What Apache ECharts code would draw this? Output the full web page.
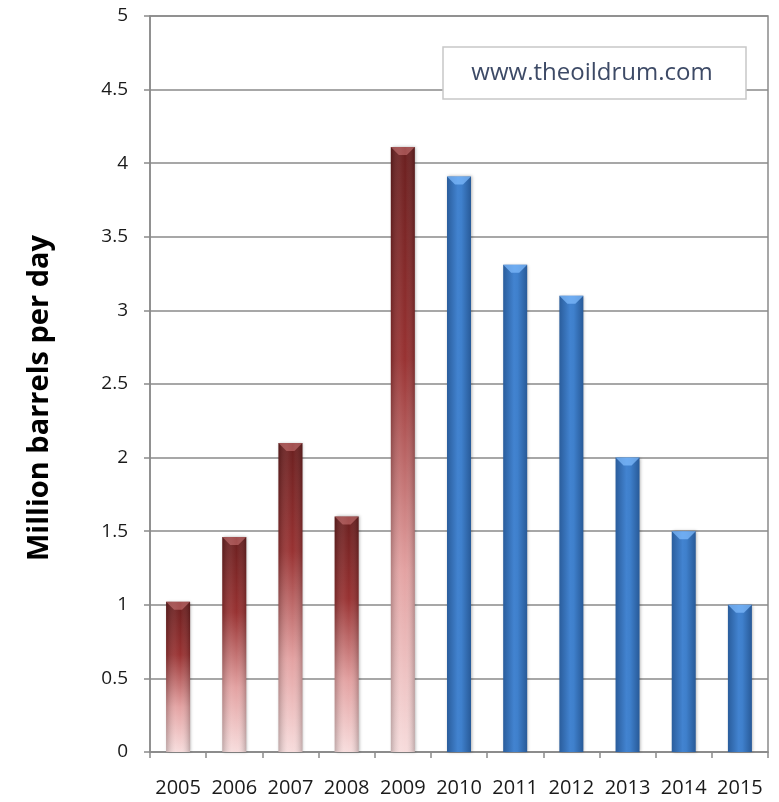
<!DOCTYPE html>
<html><head><meta charset="utf-8">
<script src="https://cdn.jsdelivr.net/npm/echarts@6/dist/echarts.min.js"></script>
<style>html,body{margin:0;padding:0;background:#fff}#c{width:779px;height:802px}</style>
</head><body><div id="c"></div>
<script>
const years = ['2005','2006','2007','2008','2009','2010','2011','2012','2013','2014','2015'];
const historical = [1.02, 1.46, 2.10, 1.60, 4.11, '-', '-', '-', '-', '-', '-'];
const forecast = ['-', '-', '-', '-', '-', 3.91, 3.31, 3.10, 2.00, 1.50, 1.00];
const yTicks = {min: 0, max: 5, interval: 0.5};
const yLabel = 'Million barrels per day';
const watermark = 'www.theoildrum.com';

const font = '"Open Sans", "Noto Sans", sans-serif';
const chart = echarts.init(document.getElementById('c'));
const redGrad = new echarts.graphic.LinearGradient(0,0,0,1,[
  {offset:0,color:'#6a1f1f'},{offset:0.35,color:'#983232'},{offset:0.7,color:'#e3a2a2'},{offset:1,color:'#f7dcdc'}]);
const blueGrad = new echarts.graphic.LinearGradient(0,0,1,0,[
  {offset:0,color:'#2a5d9c'},{offset:0.45,color:'#4283d0'},{offset:0.6,color:'#3f80cc'},{offset:1,color:'#285a98'}]);
const edgeShade = new echarts.graphic.LinearGradient(0,0,1,0,[
  {offset:0,color:'rgba(0,0,0,0.22)'},{offset:0.4,color:'rgba(255,255,255,0.06)'},{offset:0.6,color:'rgba(255,255,255,0.0)'},{offset:1,color:'rgba(0,0,0,0.22)'}]);
const bw = 24;
const capPath = 'path://M0,0 L24,0 L16,8 L8,8 Z';
chart.setOption({
  animation:false,
  grid:{left:150,right:11,top:16,bottom:50,show:true,borderColor:'#8a8a8a',borderWidth:1.5},
  xAxis:{type:'category',data:years,
    axisLine:{lineStyle:{color:'#8a8a8a',width:1.5}},
    axisTick:{show:true,length:6,lineStyle:{color:'#8a8a8a',width:1.5}},
    axisLabel:{interval:0,color:'#1a1a1a',fontFamily:font,fontSize:20,margin:26}},
  yAxis:{type:'value',min:yTicks.min,max:yTicks.max,interval:yTicks.interval,
    axisLine:{show:true,lineStyle:{color:'#8a8a8a',width:1.5}},
    axisTick:{show:true,length:6,lineStyle:{color:'#8a8a8a',width:1.5}},
    splitLine:{lineStyle:{color:'#8a8a8a',width:1.5}},
    axisLabel:{color:'#1a1a1a',fontFamily:font,fontSize:19,margin:22}},
  series:[
    {type:'bar',data:historical,barWidth:bw,barGap:'-100%',itemStyle:{color:redGrad,shadowColor:'rgba(0,0,0,0.3)',shadowBlur:3,shadowOffsetX:1}},
    {type:'bar',data:forecast,barWidth:bw,barGap:'-100%',itemStyle:{color:blueGrad,shadowColor:'rgba(0,0,0,0.3)',shadowBlur:3,shadowOffsetX:1}},
    {type:'bar',data:historical,barWidth:bw,barGap:'-100%',silent:true,itemStyle:{color:edgeShade}},
    {type:'pictorialBar',data:historical,symbol:capPath,symbolSize:[bw,8],symbolPosition:'end',barGap:'-100%',barWidth:bw,itemStyle:{color:'rgba(230,140,140,0.45)'},z:5},
    {type:'pictorialBar',data:forecast,symbol:capPath,symbolSize:[bw,8],symbolPosition:'end',barGap:'-100%',barWidth:bw,itemStyle:{color:'rgba(130,190,255,0.7)'},z:5}
  ],
  graphic:[
    {type:'text',x:40,y:398,rotation:Math.PI/2,style:{text:yLabel,fill:'#000',font:'bold 29px '+font,textAlign:'center',textVerticalAlign:'middle'}},
    {type:'rect',shape:{x:443,y:47,width:303,height:52},style:{fill:'#fff',stroke:'#c8c8c8',lineWidth:1.5},z:100},
    {type:'text',x:592,y:73,style:{text:watermark,fill:'#3d4a66',font:'24px '+font,textAlign:'center',textVerticalAlign:'middle'},z:101}
  ]
});
</script></body></html>
